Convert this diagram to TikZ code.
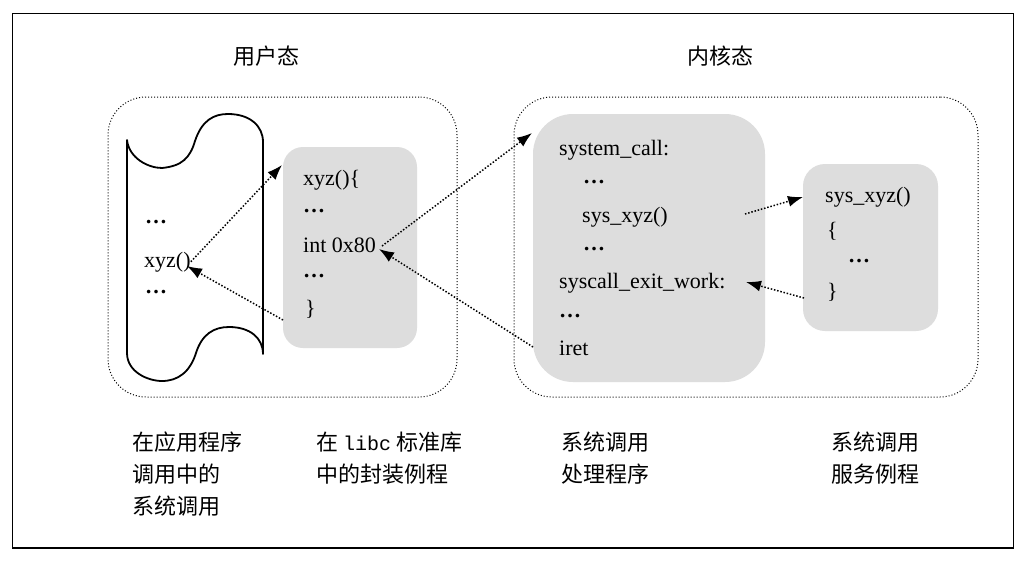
\documentclass[tikz,border=0pt]{standalone}
\usepackage{fontspec}
\setmainfont{Liberation Serif}
\newfontfamily\cjk{Noto Sans CJK SC}
\newfontfamily\mono{Liberation Mono}
\usetikzlibrary{arrows.meta}
\definecolor{boxgray}{RGB}{221,221,221}
\newcommand{\dotsb}{\textbf{…}}
\begin{document}
\begin{tikzpicture}[x=1pt,y=-1pt,
  txt/.style={anchor=base west, inner sep=0pt, font=\fontsize{22}{26}\selectfont},
  lbl/.style={anchor=base west, inner sep=0pt, font=\cjk\fontsize{22}{26}\selectfont},
  graybox/.style={fill=boxgray, draw=none, inner sep=0pt},
  region/.style={draw, line width=1pt, dash pattern=on 1pt off 2pt, inner sep=0pt, rounded corners=38pt},
  link/.style={line width=1.5pt, dash pattern=on 1.5pt off 1.8pt, -{Latex[length=15pt,width=11pt]}},
  frame/.style={draw, line width=1.8pt, inner sep=0pt}]
\useasboundingbox (0,0) rectangle (1029,563);
\fill[white] (0,0) rectangle (1029,563);
% outer frame
\node[frame, minimum width=1001pt, minimum height=534.5pt] (outer) at (513,280.75) {};
% titles
\node[lbl] (tuser) at (233,64) {用户态};
\node[lbl] (tkern) at (687,64) {内核态};
% regions
\node[region, minimum width=349pt, minimum height=300pt] (user) at (282.5,247) {};
\node[region, minimum width=464pt, minimum height=300pt] (kern) at (746,247) {};
% gray boxes
\node[graybox, rounded corners=20pt, minimum width=134pt, minimum height=201pt] (box1) at (350,247.5) {};
\node[graybox, rounded corners=40pt, minimum width=232pt, minimum height=268pt] (box2) at (649,248) {};
\node[graybox, rounded corners=22pt, minimum width=135pt, minimum height=167pt] (box3) at (870.5,247.5) {};
% scroll
\draw[line width=1.8pt, line join=round]
  (127,140) .. controls (129,158) and (148,168) .. (162,168)
  .. controls (182,166) and (190,158) .. (195,141)
  .. controls (202,120) and (214,114) .. (228,114)
  .. controls (250,114) and (263,126) .. (263,142)
  -- (263,354)
  .. controls (263,338) and (250,327) .. (229,327)
  .. controls (214,327) and (202,334) .. (196,353)
  .. controls (190,372) and (178,381) .. (162,381)
  .. controls (148,381) and (127,372) .. (127,353)
  -- cycle;
% scroll text
\node[txt] (sd1) at (145,223) {\dotsb};
\node[txt] (xyzapp) at (144,267) {xyz()};
\node[txt] (sd2) at (145,293) {\dotsb};
% box1 text
\node[txt] (w1) at (303,185) {xyz()\{};
\node[txt] (w2) at (303,212) {\dotsb};
\node[txt] (int80) at (303,252) {int 0x80};
\node[txt] (w4) at (303,277) {\dotsb};
\node[txt] (w5) at (305,315) {\}};
% box2 text
\node[txt] (k1) at (559,155) {system\_call:};
\node[txt] (k2) at (583,183) {\dotsb};
\node[txt] (k3) at (582,222) {sys\_xyz()};
\node[txt] (k4) at (583,250) {\dotsb};
\node[txt] (k5) at (559,288) {syscall\_exit\_work:};
\node[txt] (k6) at (559,317) {\dotsb};
\node[txt] (iret) at (559,355) {iret};
% box3 text
\node[txt] (s1) at (825,202) {sys\_xyz()};
\node[txt] (s2) at (827,237) {\{};
\node[txt] (s3) at (848,262) {\dotsb};
\node[txt] (s4) at (827,298) {\}};
% bottom labels
\node[lbl] (l1a) at (132,450) {在应用程序};
\node[lbl] (l1b) at (132,482) {调用中的};
\node[lbl] (l1c) at (132,514) {系统调用};
\node[lbl] (l2a) at (316,450) {在 {\mono\fontsize{20}{24}\selectfont libc} 标准库};
\node[lbl] (l2b) at (316,482) {中的封装例程};
\node[lbl] (l3a) at (561,450) {系统调用};
\node[lbl] (l3b) at (561,482) {处理程序};
\node[lbl] (l4a) at (831,450) {系统调用};
\node[lbl] (l4b) at (831,482) {服务例程};
% connector ends
\coordinate (pA) at (282,165);
\coordinate (pB) at (283,320);
\coordinate (pBt) at (187,266);
\coordinate (pC) at (382,246);
\coordinate (pCt) at (532,133);
\coordinate (pD) at (533,347);
\coordinate (pDt) at (379,249);
\coordinate (pE) at (745,214);
\coordinate (pEt) at (803,197);
\coordinate (pF) at (804,298);
\coordinate (pFt) at (746,282);
% connectors
\draw[link] (xyzapp.east) -- (pA);
\draw[link] (pB) -- (pBt);
\draw[link] (pC) -- (pCt);
\draw[link] (pD) -- (pDt);
\draw[link] (pE) -- (pEt);
\draw[link] (pF) -- (pFt);
\end{tikzpicture}
\end{document}
